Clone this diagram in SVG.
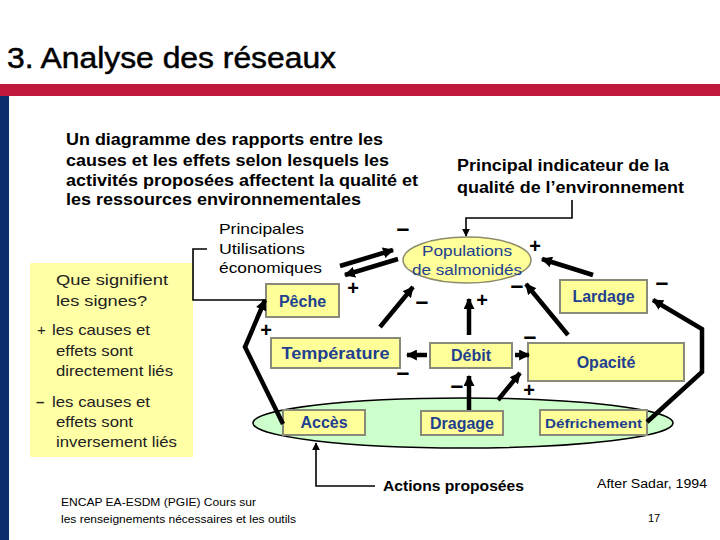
<svg xmlns="http://www.w3.org/2000/svg" width="720" height="540" viewBox="0 0 720 540">
<defs>
<style>
.t{font-family:"Liberation Sans",Arial,sans-serif;fill:#000}
.b{font-weight:bold}
.box{fill:#FFFF99;stroke:#8A8A7A;stroke-width:2}
.bt{font-family:"Liberation Sans",Arial,sans-serif;font-weight:bold;fill:#22408F;text-anchor:middle}
.th{fill:none;stroke:#000;stroke-width:4.5}
.tn{fill:none;stroke:#000;stroke-width:1.6}
.sg{font-family:"Liberation Sans",Arial,sans-serif;font-weight:bold;font-size:20px;fill:#000;text-anchor:middle}
.mn{font-family:"Liberation Sans",Arial,sans-serif;font-weight:bold;font-size:23px;fill:#000;text-anchor:middle}
.lg{font-family:"Liberation Sans",Arial,sans-serif;font-size:15px;fill:#222}
</style>
<marker id="ah" viewBox="0 0 10 10" refX="9" refY="5" markerWidth="11" markerHeight="11" markerUnits="userSpaceOnUse" orient="auto"><path d="M0,0 L10,5 L0,10 z" fill="#000"/></marker>
<marker id="as" viewBox="0 0 10 10" refX="9" refY="5" markerWidth="8" markerHeight="8" markerUnits="userSpaceOnUse" orient="auto"><path d="M0,0 L10,5 L0,10 z" fill="#000"/></marker>
</defs>
<rect width="720" height="540" fill="#fff"/>
<rect x="0" y="84" width="720" height="12" fill="#C0183C"/>
<rect x="0" y="96" width="9" height="444" fill="#0B2D6B"/>
<text class="t" x="7" y="68" font-size="29" stroke="#000" stroke-width="0.5" textLength="329" lengthAdjust="spacingAndGlyphs">3. Analyse des réseaux</text>

<g id="intro" class="t b" font-size="16">
<text x="66" y="145" textLength="317" lengthAdjust="spacingAndGlyphs">Un diagramme des rapports entre les</text>
<text x="66" y="166" textLength="323" lengthAdjust="spacingAndGlyphs">causes et les effets selon lesquels les</text>
<text x="66" y="186" textLength="352" lengthAdjust="spacingAndGlyphs">activités proposées affectent la qualité et</text>
<text x="66" y="205" textLength="295" lengthAdjust="spacingAndGlyphs">les ressources environnementales</text>
</g>
<g id="indicateur" class="t b" font-size="16">
<text x="457" y="171" textLength="212" lengthAdjust="spacingAndGlyphs">Principal indicateur de la</text>
<text x="457" y="193" textLength="227" lengthAdjust="spacingAndGlyphs">qualité de l’environnement</text>
</g>
<g id="legende">
<rect x="30" y="263" width="163" height="194" fill="#FFFFA6"/>
<text class="lg" x="56" y="285" textLength="112" lengthAdjust="spacingAndGlyphs">Que signifient</text>
<text class="lg" x="56" y="306" textLength="91" lengthAdjust="spacingAndGlyphs">les signes?</text>
<text class="lg" x="37" y="335">+</text>
<text class="lg" x="52" y="335" textLength="98" lengthAdjust="spacingAndGlyphs">les causes et</text>
<text class="lg" x="56" y="356" textLength="77" lengthAdjust="spacingAndGlyphs">effets sont</text>
<text class="lg" x="56" y="376" textLength="117" lengthAdjust="spacingAndGlyphs">directement liés</text>
<text class="lg" x="36" y="407" font-weight="bold">–</text>
<text class="lg" x="52" y="407" textLength="98" lengthAdjust="spacingAndGlyphs">les causes et</text>
<text class="lg" x="56" y="427" textLength="77" lengthAdjust="spacingAndGlyphs">effets sont</text>
<text class="lg" x="56" y="447" textLength="121" lengthAdjust="spacingAndGlyphs">inversement liés</text>
</g>

<g id="actions-zone">
<ellipse cx="463" cy="423" rx="210" ry="25" fill="#CCFFCC" stroke="#000" stroke-width="1.5"/>
</g>

<g id="utilisations" class="t" font-size="15">
<text x="219" y="234" textLength="85" lengthAdjust="spacingAndGlyphs">Principales</text>
<text x="219" y="254" textLength="86" lengthAdjust="spacingAndGlyphs">Utilisations</text>
<text x="219" y="273" textLength="103" lengthAdjust="spacingAndGlyphs">économiques</text>
</g>
<g id="populations">
<ellipse cx="467" cy="260" rx="64" ry="23" fill="#FFFF99" stroke="#8C8A6A" stroke-width="1.5"/>
<text class="t" x="467" y="256" font-size="14" style="fill:#22408F" text-anchor="middle" textLength="90" lengthAdjust="spacingAndGlyphs">Populations</text>
<text class="t" x="467" y="275" font-size="14" style="fill:#22408F" text-anchor="middle" textLength="110" lengthAdjust="spacingAndGlyphs">de salmonidés</text>
</g>
<g id="peche"><rect class="box" x="266" y="284" width="73" height="33"/><text class="bt" x="302.5" y="307" font-size="16">Pêche</text></g>
<g id="temperature"><rect class="box" x="271" y="338" width="129" height="30"/><text class="bt" x="335.5" y="359" font-size="16" textLength="108" lengthAdjust="spacingAndGlyphs">Température</text></g>
<g id="debit"><rect class="box" x="430" y="343" width="82" height="25"/><text class="bt" x="471" y="361" font-size="16">Débit</text></g>
<g id="opacite"><rect class="box" x="528" y="343" width="156" height="38"/><text class="bt" x="606" y="368" font-size="16">Opacité</text></g>
<g id="lardage"><rect class="box" x="560" y="280" width="87" height="33"/><text class="bt" x="603.5" y="302" font-size="16">Lardage</text></g>
<g id="acces"><rect class="box" x="283" y="410" width="82" height="25"/><text class="bt" x="324" y="428" font-size="16">Accès</text></g>
<g id="dragage"><rect class="box" x="421" y="411" width="82" height="24"/><text class="bt" x="462" y="429" font-size="16">Dragage</text></g>
<g id="defrichement"><rect class="box" x="540" y="410" width="107" height="25"/><text class="bt" x="593.5" y="427.5" font-size="13" textLength="97" lengthAdjust="spacingAndGlyphs">Défrichement</text></g>

<g id="connectors">
<polyline class="tn" points="572,200 572,218 466,218 466,236" marker-end="url(#as)"/>
<polyline class="tn" points="207,249 193,249 193,300 266,300"/>
<polyline class="tn" points="375,486 316,486 316,443" marker-end="url(#as)"/>
<line class="th" x1="340" y1="266" x2="393" y2="250" marker-end="url(#ah)"/>
<line class="th" x1="398" y1="259" x2="345" y2="275" marker-end="url(#ah)"/>
<line class="th" x1="380" y1="327" x2="413" y2="287" marker-end="url(#ah)"/>
<line class="th" x1="469" y1="335" x2="469" y2="299" marker-end="url(#ah)"/>
<line class="th" x1="568" y1="335" x2="526" y2="284" marker-end="url(#ah)"/>
<line class="th" x1="593" y1="275" x2="542" y2="259" marker-end="url(#ah)"/>
<line class="th" x1="427" y1="355" x2="407" y2="355" marker-end="url(#ah)"/>
<line class="th" x1="515" y1="355" x2="529" y2="355" marker-end="url(#ah)"/>
<line class="th" x1="469" y1="410" x2="469" y2="376" marker-end="url(#ah)"/>
<line class="th" x1="498" y1="400" x2="520" y2="373" marker-end="url(#ah)"/>
<polyline class="th" points="647,422 702,372 702,329 653,300" marker-end="url(#ah)"/>
<polyline class="th" points="283,424 245,347 265,300" marker-end="url(#ah)"/>
</g>

<g id="signes">
<text class="mn" x="403" y="236">–</text>
<text class="sg" x="535" y="253">+</text>
<text class="sg" x="353" y="295">+</text>
<text class="mn" x="422" y="309">–</text>
<text class="sg" x="482" y="307">+</text>
<text class="mn" x="517" y="293">–</text>
<text class="mn" x="662" y="290">–</text>
<text class="sg" x="266" y="337">+</text>
<text class="mn" x="530" y="344">–</text>
<text class="mn" x="403" y="380">–</text>
<text class="mn" x="457" y="393">–</text>
<text class="sg" x="529" y="397">+</text>
</g>

<text class="t b" x="383" y="491" font-size="15" textLength="141" lengthAdjust="spacingAndGlyphs">Actions proposées</text>
<text class="t" x="597" y="488" font-size="12" textLength="110" lengthAdjust="spacingAndGlyphs">After Sadar, 1994</text>
<text class="t" x="61" y="506" font-size="11" textLength="195" lengthAdjust="spacingAndGlyphs">ENCAP EA-ESDM (PGIE) Cours sur</text>
<text class="t" x="61" y="523" font-size="11" textLength="235" lengthAdjust="spacingAndGlyphs">les renseignements nécessaires et les outils</text>
<text class="t" x="648" y="522" font-size="11">17</text>
</svg>
